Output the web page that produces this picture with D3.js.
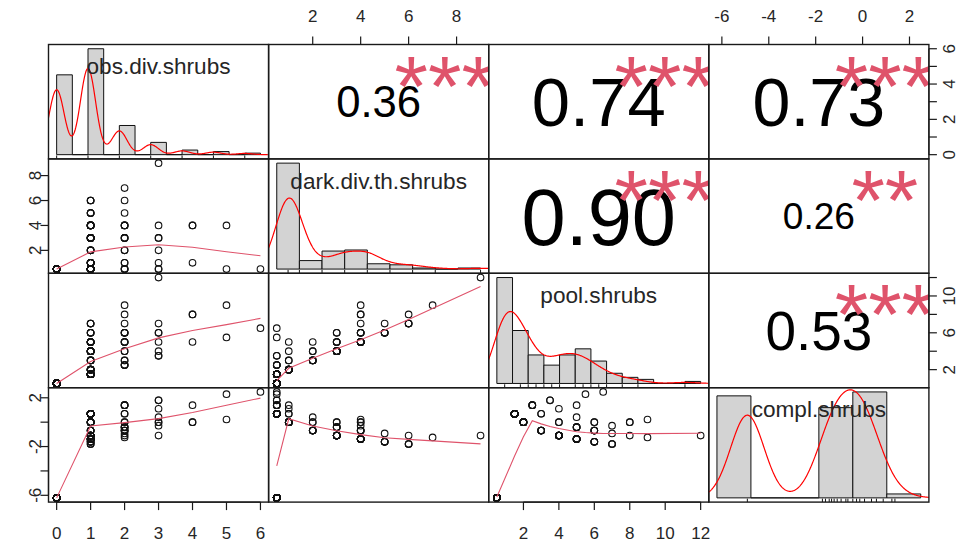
<!DOCTYPE html>
<html>
<head>
<meta charset="utf-8">
<script src="https://cdn.jsdelivr.net/npm/d3@7"></script>
<style>
  body { margin: 0; background: #fff; }
  svg { display: block; }
  text { font-family: "Liberation Sans", Arial, sans-serif; }
</style>
</head>
<body>
<svg id="chart" width="965" height="544"></svg>
<script>
// ---- data -------------------------------------------------------------
const varNames = ["obs.div.shrubs", "dark.div.th.shrubs", "pool.shrubs", "compl.shrubs"];

// distinct site profiles and the number of sites sharing each profile
const obsDiv    = [0, 1, 1, 1, 1, 1, 1, 1, 2, 2, 2, 2, 2, 2, 2, 2, 3, 3, 3, 3, 3, 3, 4, 4, 5, 5, 6];
const darkDiv   = [0.5, 0.5, 1, 2, 3, 4, 5, 6, 0.5, 1, 2, 3, 4, 5, 6, 7, 0.5, 1, 2, 3, 4, 9, 1, 4, 0.5, 4, 0.5];
const poolDiv   = [0.5, 1.5, 2, 3, 4, 5, 6, 7, 2.5, 3, 4, 5, 6, 7, 8, 9, 3.5, 4, 5, 6, 7, 12, 5, 8, 5.5, 9, 6.5];
const complSh   = [-6.21, 0.69, 0, -0.69, -1.10, -1.39, -1.61, -1.79, 1.39, 0.69, 0, -0.41, -0.69, -0.92, -1.10, -1.25,
                   1.79, 1.10, 0.41, 0, -0.29, -1.10, 1.39, 0, 2.30, 0.22, 2.48];
const siteCount = [52, 26, 10, 5, 11, 10, 4, 3, 4, 2, 2, 4, 4, 1, 1, 1, 2, 1, 1, 2, 1, 1, 1, 2, 1, 1, 1];

// correlations shown in the upper panels (row, col)
const corCells  = [[0, 1], [0, 2], [0, 3], [1, 2], [1, 3], [2, 3]];
const corValues = [0.36, 0.74, 0.73, 0.90, 0.26, 0.53];
const corStars  = ["***", "***", "***", "***", "**", "***"];

// histogram breaks per variable
const histBreaks = [
  [0, 0.5, 1, 1.5, 2, 2.5, 3, 3.5, 4, 4.5, 5, 5.5, 6, 6.5],
  [0, 1, 2, 3, 4, 5, 6, 7, 8, 9],
  [0, 1, 2, 3, 4, 5, 6, 7, 8, 9, 10, 11, 12, 13],
  [-8, -6, -4, -2, 0, 2, 4]
];
const histRightClosed = [false, true, false, false];

// outer axes: ticks and the labels printed at them
const axBottom0 = { ticks: [0, 1, 2, 3, 4, 5, 6], labels: ["0", "1", "2", "3", "4", "5", "6"] };
const axBottom2 = { ticks: [2, 4, 6, 8, 10, 12], labels: ["2", "4", "6", "8", "10", "12"] };
const axTop1    = { ticks: [2, 4, 6, 8], labels: ["2", "4", "6", "8"] };
const axTop3    = { ticks: [-6, -4, -2, 0, 2], labels: ["-6", "-4", "-2", "0", "2"] };
const axLeft1   = { ticks: [2, 4, 6, 8], labels: ["2", "4", "6", "8"] };
const axLeft3   = { ticks: [-6, -4, -2, 0, 2], labels: ["-6", "", "-2", "", "2"] };
const axRight0  = { ticks: [0, 1, 2, 3, 4, 5, 6], labels: ["0", "", "2", "", "4", "", "6"] };
const axRight2  = { ticks: [2, 4, 6, 8, 10, 12], labels: ["2", "", "6", "", "10", ""] };

// ---- layout -----------------------------------------------------------
const gridLeft = 48.5, gridTop = 44.5, cellW = 220.1, cellH = 114.4, nv = 4;
const gridRight = gridLeft + nv * cellW, gridBottom = gridTop + nv * cellH;
const axisFont = 17, tickLen = 8;
const textCol = "#262626";
const starCol = "#DF536B", smoothCol = "#DF536B", densCol = "#FF0000", barFill = "#D3D3D3";
const corBaseFont = 86;

const svg = d3.select("#chart");

// one row per site
const rows = [];
siteCount.forEach((c, k) => {
  for (let r = 0; r < c; r++) rows.push([obsDiv[k], darkDiv[k], poolDiv[k], complSh[k]]);
});
const cols = d3.range(nv).map(v => rows.map(r => r[v]));

function padded(ext, frac = 0.04) {
  const d = (ext[1] - ext[0]) * frac;
  return [ext[0] - d, ext[1] + d];
}
const xScales = cols.map((vals, v) =>
  d3.scaleLinear().domain(padded(d3.extent(vals))).range([gridLeft + v * cellW, gridLeft + (v + 1) * cellW]));
const yScales = cols.map((vals, v) =>
  d3.scaleLinear().domain(padded(d3.extent(vals))).range([gridTop + (v + 1) * cellH, gridTop + v * cellH]));

// ---- helpers ----------------------------------------------------------
function histCounts(values, breaks, rightClosed) {
  const counts = new Array(breaks.length - 1).fill(0);
  values.forEach(v => {
    let k = rightClosed ? d3.bisectLeft(breaks, v) - 1 : d3.bisectRight(breaks, v) - 1;
    k = Math.max(0, Math.min(counts.length - 1, k));
    counts[k]++;
  });
  return counts;
}

function bwNrd0(vals) {
  const s = vals.slice().sort(d3.ascending);
  const hi = d3.deviation(s);
  const iqr = d3.quantileSorted(s, 0.75) - d3.quantileSorted(s, 0.25);
  let lo = Math.min(hi, iqr / 1.34);
  if (!lo) lo = hi || Math.abs(s[0]) || 1;
  return 0.9 * lo * Math.pow(s.length, -0.2);
}

function densityCurve(vals) {
  const bw = bwNrd0(vals);
  const lo = d3.min(vals) - 3 * bw, hi = d3.max(vals) + 3 * bw;
  const c = 1 / (vals.length * bw * Math.sqrt(2 * Math.PI));
  return d3.range(512).map(k => {
    const g = lo + (hi - lo) * k / 511;
    return [g, c * d3.sum(vals, v => Math.exp(-0.5 * ((g - v) / bw) ** 2))];
  });
}

// locally weighted scatterplot smoothing (Cleveland), span f, robustness iterations nsteps
function lowess(xIn, yIn, f = 2 / 3, nsteps = 3) {
  const n = xIn.length;
  const ord = d3.range(n).sort((a, b) => xIn[a] - xIn[b]);
  const x = ord.map(k => xIn[k]), y = ord.map(k => yIn[k]);
  const ys = new Array(n).fill(0), rw = new Array(n).fill(1), res = new Array(n).fill(0);
  const range = x[n - 1] - x[0];
  const delta = 0.01 * range;
  const ns = Math.max(2, Math.min(n, Math.floor(f * n + 1e-7)));

  function lowest(xs, nleft, nright, useRw) {
    const h = Math.max(xs - x[nleft], x[nright] - xs);
    const h9 = 0.999 * h, h1 = 0.001 * h;
    const w = new Array(n).fill(0);
    let a = 0, j = nleft;
    while (j < n) {
      const r = Math.abs(x[j] - xs);
      if (r <= h9) {
        w[j] = r <= h1 ? 1 : Math.pow(1 - Math.pow(r / h, 3), 3);
        if (useRw) w[j] *= rw[j];
        a += w[j];
      } else if (x[j] > xs) break;
      j++;
    }
    const nrt = j - 1;
    if (a <= 0) return null;
    for (j = nleft; j <= nrt; j++) w[j] /= a;
    if (h > 0) {
      a = 0;
      for (j = nleft; j <= nrt; j++) a += w[j] * x[j];
      let b = xs - a, c = 0;
      for (j = nleft; j <= nrt; j++) c += w[j] * (x[j] - a) * (x[j] - a);
      if (Math.sqrt(c) > 0.001 * range) {
        b /= c;
        for (j = nleft; j <= nrt; j++) w[j] *= (b * (x[j] - a) + 1);
      }
    }
    let v = 0;
    for (j = nleft; j <= nrt; j++) v += w[j] * y[j];
    return v;
  }

  for (let iter = 1; iter <= nsteps + 1; iter++) {
    let nleft = 0, nright = ns - 1, last = -1, i = 0;
    for (;;) {
      if (nright < n - 1) {
        const d1 = x[i] - x[nleft], d2 = x[nright + 1] - x[i];
        if (d1 > d2) { nleft++; nright++; continue; }
      }
      const v = lowest(x[i], nleft, nright, iter > 1);
      ys[i] = v === null ? y[i] : v;
      if (last < i - 1) {
        const denom = x[i] - x[last];
        for (let j = last + 1; j < i; j++) {
          const alpha = (x[j] - x[last]) / denom;
          ys[j] = alpha * ys[i] + (1 - alpha) * ys[last];
        }
      }
      last = i;
      const cut = x[last] + delta;
      for (i = last + 1; i < n; i++) {
        if (x[i] > cut) break;
        if (x[i] === x[last]) { ys[i] = ys[last]; last = i; }
      }
      i = Math.max(last + 1, i - 1);
      if (last >= n - 1) break;
    }
    for (let k = 0; k < n; k++) res[k] = y[k] - ys[k];
    if (iter > nsteps) break;
    const sc = d3.mean(res, Math.abs);
    const ar = res.map(Math.abs).sort((a, b) => a - b);
    const m1 = Math.floor(n / 2);
    const cmad = n % 2 === 0 ? 3 * (ar[m1 - 1] + ar[m1]) : 6 * ar[m1];
    if (cmad < 1e-7 * sc) break;
    const c9 = 0.999 * cmad, c1 = 0.001 * cmad;
    for (let k = 0; k < n; k++) {
      const r = Math.abs(res[k]);
      rw[k] = r <= c1 ? 1 : r > c9 ? 0 : Math.pow(1 - (r / cmad) * (r / cmad), 2);
    }
  }
  return x.map((xv, k) => [xv, ys[k]]);
}

// ---- panels -----------------------------------------------------------
const defs = svg.append("defs");
for (let i = 0; i < nv; i++) for (let j = 0; j < nv; j++) {
  defs.append("clipPath").attr("id", `clip-${i}-${j}`)
    .append("rect")
    .attr("x", gridLeft + j * cellW).attr("y", gridTop + i * cellH)
    .attr("width", cellW).attr("height", cellH);
}

for (let i = 0; i < nv; i++) {
  for (let j = 0; j < nv; j++) {
    const x0 = gridLeft + j * cellW, y0 = gridTop + i * cellH;
    const g = svg.append("g").attr("clip-path", `url(#clip-${i}-${j})`);

    if (i === j) {
      // histogram with density curve and rug
      const vals = cols[i], br = histBreaks[i], n = vals.length;
      const counts = histCounts(vals, br, histRightClosed[i]);
      const dens = counts.map((c, k) => c / (n * (br[k + 1] - br[k])));
      const hx = d3.scaleLinear().domain(padded([br[0], br[br.length - 1]])).range([x0, x0 + cellW]);
      const hy = d3.scaleLinear().domain(padded([0, d3.max(dens)])).range([y0 + cellH, y0]);
      g.selectAll("path.bar").data(dens).join("path")
        .attr("class", "bar")
        .attr("d", (d, k) => `M${hx(br[k])},${hy(0)}V${hy(d)}H${hx(br[k + 1])}V${hy(0)}Z`)
        .attr("fill", barFill).attr("stroke", "#111").attr("stroke-width", 1);
      g.append("path")
        .attr("d", d3.line().x(d => hx(d[0])).y(d => hy(d[1]))(densityCurve(vals)))
        .attr("fill", "none").attr("stroke", densCol).attr("stroke-width", 1.2);
      const rugLen = 0.03 * Math.min(cellW, cellH);
      g.selectAll("line.rug").data(Array.from(new Set(vals))).join("line")
        .attr("class", "rug")
        .attr("x1", d => hx(d)).attr("x2", d => hx(d))
        .attr("y1", y0 + cellH).attr("y2", y0 + cellH - rugLen)
        .attr("stroke", "#111").attr("stroke-width", 1);
      // variable name
      svg.append("text")
        .attr("x", x0 + cellW / 2).attr("y", y0 + cellH * (1 - 0.833))
        .attr("dy", "0.47em")
        .attr("text-anchor", "middle")
        .attr("font-size", 22.6).attr("fill", textCol)
        .text(varNames[i]);
    } else if (i > j) {
      // scatter with lowess smooth
      const xs = xScales[j], ys = yScales[i];
      g.selectAll("circle").data(rows).join("circle")
        .attr("cx", d => xs(d[j])).attr("cy", d => ys(d[i]))
        .attr("r", 3.3).attr("fill", "none").attr("stroke", "#111").attr("stroke-width", 1.1);
      const sm = lowess(cols[j], cols[i]);
      g.append("path")
        .attr("d", d3.line().x(d => xs(d[0])).y(d => ys(d[1]))(sm))
        .attr("fill", "none").attr("stroke", smoothCol).attr("stroke-width", 1.1);
    } else {
      // correlation coefficient and significance stars
      const k = corCells.findIndex(c => c[0] === i && c[1] === j);
      const r = corValues[k];
      const fs = corBaseFont * (Math.abs(r) + 0.3) / 1.3;
      g.append("text")
        .attr("x", x0 + 0.5 * cellW).attr("y", y0 + 0.5 * cellH)
        .attr("dy", "0.358em")
        .attr("text-anchor", "middle")
        .attr("font-size", fs).attr("fill", "#000")
        .text(r.toFixed(2));
      g.append("text")
        .attr("x", x0 + 0.8 * cellW).attr("y", y0 + 0.2 * cellH)
        .attr("dy", "0.56em")
        .attr("text-anchor", "middle")
        .attr("font-size", corBaseFont).attr("fill", starCol)
        .text(corStars[k]);
    }

    svg.append("rect")
      .attr("x", x0).attr("y", y0).attr("width", cellW).attr("height", cellH)
      .attr("fill", "none").attr("stroke", "#1a1a1a").attr("stroke-width", 1.4);
  }
}

// ---- outer axes -------------------------------------------------------
const axG = svg.append("g").attr("stroke", "#1a1a1a").attr("stroke-width", 1.2);

function hAxis(spec, scale, side) {
  const yEdge = side === "bottom" ? gridBottom : gridTop;
  const dir = side === "bottom" ? 1 : -1;
  axG.append("line").attr("x1", scale(spec.ticks[0])).attr("x2", scale(spec.ticks[spec.ticks.length - 1]))
    .attr("y1", yEdge).attr("y2", yEdge);
  spec.ticks.forEach((t, k) => {
    const x = scale(t);
    axG.append("line").attr("x1", x).attr("x2", x).attr("y1", yEdge).attr("y2", yEdge + dir * tickLen);
    if (spec.labels[k]) {
      svg.append("text")
        .attr("x", x).attr("y", side === "bottom" ? yEdge + 31 : yEdge - 29)
        .attr("dy", "0.36em").attr("text-anchor", "middle")
        .attr("font-size", axisFont).attr("fill", textCol)
        .text(spec.labels[k]);
    }
  });
}

function vAxis(spec, scale, side) {
  const xEdge = side === "left" ? gridLeft : gridRight;
  const dir = side === "left" ? -1 : 1;
  axG.append("line").attr("y1", scale(spec.ticks[0])).attr("y2", scale(spec.ticks[spec.ticks.length - 1]))
    .attr("x1", xEdge).attr("x2", xEdge);
  spec.ticks.forEach((t, k) => {
    const y = scale(t);
    axG.append("line").attr("y1", y).attr("y2", y).attr("x1", xEdge).attr("x2", xEdge + dir * tickLen);
    if (spec.labels[k]) {
      const cx = side === "left" ? xEdge - 14 : xEdge + 20;
      svg.append("text")
        .attr("transform", `translate(${cx},${y}) rotate(-90)`)
        .attr("dy", "0.36em").attr("text-anchor", "middle")
        .attr("font-size", axisFont).attr("fill", textCol)
        .text(spec.labels[k]);
    }
  });
}

hAxis(axBottom0, xScales[0], "bottom");
hAxis(axBottom2, xScales[2], "bottom");
hAxis(axTop1, xScales[1], "top");
hAxis(axTop3, xScales[3], "top");
vAxis(axLeft1, yScales[1], "left");
vAxis(axLeft3, yScales[3], "left");
vAxis(axRight0, yScales[0], "right");
vAxis(axRight2, yScales[2], "right");
</script>
</body>
</html>
